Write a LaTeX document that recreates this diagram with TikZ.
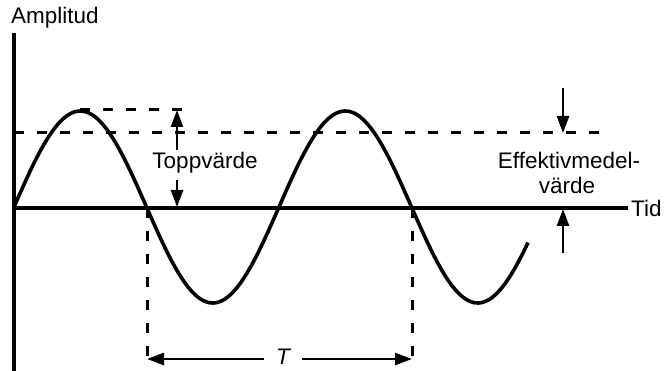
\documentclass[tikz,border=0pt]{standalone}
\usepackage{fontspec}
\setmainfont{Liberation Sans}
\usetikzlibrary{arrows.meta}
\begin{document}
\begin{tikzpicture}[x=1pt,y=-1pt,
  lbl/.style={inner sep=0pt, font=\fontsize{22.5}{26}\selectfont},
  axis/.style={line width=4.6pt},
  wave/.style={line width=3.6pt},
  dsh/.style={line width=3pt, dash pattern=on 10pt off 13pt},
  arr/.style={line width=2.6pt, -{Triangle[length=17pt,width=12pt]}}]
\useasboundingbox (0,0) rectangle (666,371);
% axes
\coordinate (O) at (14,208);
\coordinate (ytop) at (14,33);
\coordinate (ybot) at (14,371);
\coordinate (xend) at (628,208);
\draw[axis] (ytop) -- (ybot);
\draw[axis] (O) -- (xend);
\node[lbl, anchor=west] (tid) at (631,208) {Tid};
\node[lbl, anchor=south west] (amp) at (11,28) {Amplitud};
% wave
\draw[wave] plot[domain=14:528, samples=200, smooth] (\x, {207 - 96*sin((\x-14)/265*360)});
% dashed lines
\coordinate (pk1) at (80,110);
\coordinate (pk2) at (183,110);
\draw[dsh] (pk1) -- (pk2);
\coordinate (rms1) at (14,133);
\coordinate (rms2) at (603,133);
\draw[dsh] (rms1) -- (rms2);
\coordinate (z1) at (147,208);
\coordinate (z1b) at (147,362);
\coordinate (z2) at (412,208);
\coordinate (z2b) at (412,362);
\draw[dsh] (z1) -- (z1b);
\draw[dsh] (z2) -- (z2b);
% Toppvarde
\node[lbl] (topp) at (205,163) {Toppvärde};
\coordinate (tu1) at (177,150);
\coordinate (tu2) at (177,110);
\coordinate (td1) at (177,180);
\coordinate (td2) at (177,207);
\draw[arr] (tu1) -- (tu2);
\draw[arr] (td1) -- (td2);
% Effektivmedelvarde
\node[lbl] (eff) at (569,160) {Effektivmedel-};
\node[lbl] (vard) at (567,185) {värde};
\coordinate (ed1) at (563,88);
\coordinate (ed2) at (563,133);
\coordinate (eu1) at (563,253);
\coordinate (eu2) at (563,209);
\draw[arr] (ed1) -- (ed2);
\draw[arr] (eu1) -- (eu2);
% period
\node[lbl, inner xsep=12pt] (T) at (283,357) {\itshape T};
\coordinate (tl) at (147,359);
\coordinate (tr) at (412,359);
\draw[arr] (T.west |- tl) -- (tl);
\draw[arr] (T.east |- tr) -- (tr);
\end{tikzpicture}
\end{document}
